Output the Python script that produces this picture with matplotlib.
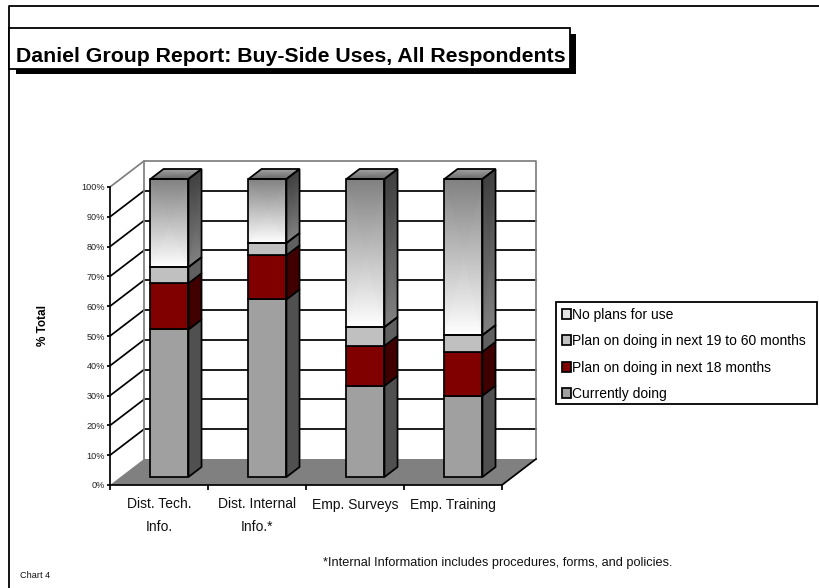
import numpy as np
import matplotlib
matplotlib.use("Agg")
import matplotlib.pyplot as plt
from matplotlib.patches import Patch, Polygon, Rectangle

plt.rcParams['font.family'] = ['Liberation Sans', 'DejaVu Sans']

categories = ["Dist. Tech.\nInfo.", "Dist. Internal\nInfo.*", "Emp. Surveys", "Emp. Training"]
currently = [49.5, 59.6, 30.6, 27.3]
plan_18 = [15.5, 14.8, 13.4, 14.7]
plan_60 = [5.4, 4.1, 6.3, 5.6]
no_plans = [29.6, 21.5, 49.7, 52.4]
series_names = ["No plans for use", "Plan on doing in next 19 to 60 months",
                "Plan on doing in next 18 months", "Currently doing"]
y_ticks = [0, 10, 20, 30, 40, 50, 60, 70, 80, 90, 100]

W, H = 820, 588
# front plane of the fake 3d box, in pixels
LEFT, RIGHT, TOP, BOTTOM = 110, 502, 187, 485
DX_CAT = 34 / ((RIGHT - LEFT) / 4)
DY_PCT = 26 / ((BOTTOM - TOP) / 100)
BAR_W = 38 / ((RIGHT - LEFT) / 4)
D0, D1 = 8 / 26, 18 / 26
LW = 1.25

fig = plt.figure(figsize=(W / 100, H / 100), dpi=100)
ax = fig.add_axes([LEFT / W, 1 - BOTTOM / H, (RIGHT - LEFT) / W, (BOTTOM - TOP) / H])
ax.patch.set_visible(False)


def proj(x, y, depth):
    return x + depth * DX_CAT, y + depth * DY_PCT


def poly(points, **kw):
    ax.add_patch(Polygon(points, closed=True, clip_on=False, **kw))


def grad(corners, values):
    # corners: bottom left, bottom right, top left, top right
    xs = np.array([[corners[0][0], corners[1][0]], [corners[2][0], corners[3][0]]])
    ys = np.array([[corners[0][1], corners[1][1]], [corners[2][1], corners[3][1]]])
    c = np.array([[values[0], values[1]], [values[2], values[3]]])
    ax.pcolormesh(xs, ys, c, shading='gouraud', cmap='gray', vmin=0, vmax=1, clip_on=False, zorder=3)


# floor and walls
poly([proj(0, 0, 0), proj(4, 0, 0), proj(4, 0, 1), proj(0, 0, 1)], fc='#808080', ec='none', zorder=1)
for t in y_ticks[1:-1]:
    ax.plot(*zip(proj(0, t, 0), proj(0, t, 1)), color='black', lw=LW, clip_on=False, zorder=2)
    ax.plot(*zip(proj(0, t, 1), proj(4, t, 1)), color='black', lw=LW, clip_on=False, zorder=2)
wall = [proj(0, 0, 0), proj(0, 0, 1), proj(0, 100, 1), proj(4, 100, 1), proj(4, 0, 1)]
ax.plot(*zip(*wall[1:]), color='#808080', lw=LW, clip_on=False, zorder=2)
ax.plot(*zip(proj(0, 100, 0), proj(0, 100, 1)), color='#808080', lw=LW, clip_on=False, zorder=2)
ax.plot(*zip(proj(4, 0, 0), proj(4, 0, 1)), color='black', lw=LW, clip_on=False, zorder=2)

# bars
solid = [('#a0a0a0', '#505050'), ('#800000', '#400000'), ('#c0c0c0', '#606060')]
for i in range(len(categories)):
    xl = i + 0.5 - BAR_W / 2
    xr = i + 0.5 + BAR_W / 2
    base = 0
    for vals, (front, side) in zip([currently, plan_18, plan_60], solid):
        top = base + vals[i]
        f = [proj(xl, base, D0), proj(xr, base, D0), proj(xr, top, D0), proj(xl, top, D0)]
        s = [proj(xr, base, D0), proj(xr, base, D1), proj(xr, top, D1), proj(xr, top, D0)]
        poly(f, fc=front, ec='black', lw=LW, zorder=4)
        poly(s, fc=side, ec='black', lw=LW, zorder=4)
        base = top
    top = base + no_plans[i]
    fl, fr = proj(xl, base, D0), proj(xr, base, D0)
    tl, tr = proj(xl, top, D0), proj(xr, top, D0)
    grad([fl, fr, tl, tr], [1, 1, 0.5, 0.5])
    sb, st = proj(xr, base, D1), proj(xr, top, D1)
    grad([fr, sb, tr, st], [0.5, 0.5, 0.25, 0.25])
    bl, br = proj(xl, top, D1), proj(xr, top, D1)
    grad([tl, tr, bl, br], [0.4, 0.4, 0.65, 0.65])
    poly([fl, fr, tr, tl], fc='none', ec='black', lw=LW, zorder=4)
    poly([fr, sb, st, tr], fc='none', ec='black', lw=LW, zorder=4)
    poly([tl, tr, br, bl], fc='none', ec='black', lw=LW, zorder=4)

ax.set_xlim(0, 4)
ax.set_ylim(0, 100)
for side in ['top', 'right']:
    ax.spines[side].set_visible(False)
for side in ['left', 'bottom']:
    ax.spines[side].set_linewidth(LW)
    ax.spines[side].set_zorder(5)
ax.set_yticks(y_ticks)
ax.set_yticklabels([f"{t}%" for t in y_ticks], fontsize=6.6, color='#222222')
ax.tick_params(axis='y', length=2.5, width=LW, pad=1)
ax.set_xticks(range(5))
ax.set_xticklabels([])
ax.tick_params(axis='x', which='major', length=3.5, width=LW)
ax.set_xticks([i + 0.5 for i in range(4)], minor=True)
ax.set_xticklabels(categories, minor=True, fontsize=10, linespacing=1.75, color='#111111')
ax.tick_params(axis='x', which='minor', length=0, pad=9)

# page furniture in pixel coordinates
page = fig.add_axes([0, 0, 1, 1], zorder=-1)
page.set_xlim(0, W)
page.set_ylim(H, 0)
page.axis('off')
page.plot([9.5, 9.5, W], [H, 5.5, 5.5], color='black', lw=1.3)
over = fig.add_axes([0, 0, 1, 1], zorder=6)
over.set_xlim(0, W)
over.set_ylim(H, 0)
over.axis('off')
over.add_patch(Rectangle((16, 34), 560, 40, fc='black', ec='none'))
over.add_patch(Rectangle((9.5, 28), 560.5, 41, fc='white', ec='black', lw=1.3))
over.text(16, 56.5, "Daniel Group Report: Buy-Side Uses, All Respondents", fontsize=15.3,
          fontweight='bold', va='center', ha='left')
over.text(43, 325, "% Total", fontsize=8.5, fontweight='bold', rotation=90, va='center', ha='center')
over.text(323, 563, "*Internal Information includes procedures, forms, and policies.",
          fontsize=9.15, va='center', ha='left', color='#111111')
over.text(20, 575, "Chart 4", fontsize=6.6, va='center', ha='left', color='#111111')

over.add_patch(Rectangle((556, 302), 261, 102, fc='white', ec='black', lw=1.3))
colors = ['#e4e4e4', '#c0c0c0', '#800000', '#a0a0a0']
handles = [Patch(fc=c, ec='black', lw=LW) for c in colors]
leg = over.legend(handles, series_names, loc='upper left',
                  bbox_to_anchor=(556 / W, 1 - 302 / H), bbox_transform=fig.transFigure,
                  fontsize=10, frameon=False,
                  borderaxespad=0, borderpad=0.4, handlelength=0.7, handleheight=0.7,
                  handletextpad=0.05, labelspacing=0.9)

fig.savefig("out.png", dpi=100)
